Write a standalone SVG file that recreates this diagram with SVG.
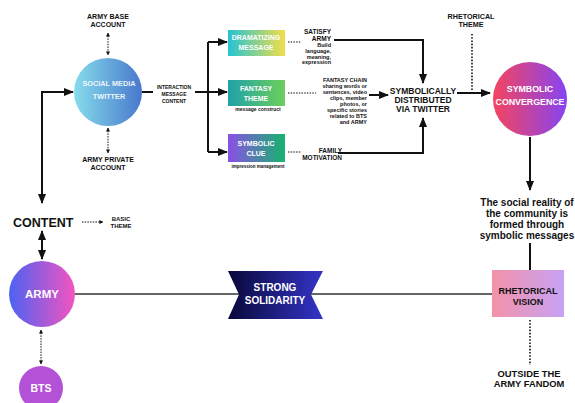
<svg xmlns="http://www.w3.org/2000/svg" width="575" height="403" viewBox="0 0 575 403">
<style>
text{font-family:"Liberation Sans",Arial,sans-serif;font-weight:bold;fill:#111}
.w{fill:#fff}
.c{text-anchor:middle}
.r{text-anchor:end}
.ln{stroke:#111;stroke-width:2;fill:none}
.th{stroke:#333;stroke-width:1.6;fill:none}
.dt{stroke:#111;stroke-width:1;stroke-dasharray:1.5 1.2;fill:none}
.dt2{stroke:#111;stroke-width:1.6;stroke-dasharray:1.6 1.6;fill:none}
</style>
<defs>
<marker id="a" viewBox="0 0 10 10" refX="9" refY="5" markerWidth="4" markerHeight="4" orient="auto-start-reverse"><path d="M0,0L10,5L0,10z" fill="#111"/></marker>
<marker id="s" viewBox="0 0 10 10" refX="9" refY="5" markerWidth="5" markerHeight="5" orient="auto-start-reverse"><path d="M0,1L10,5L0,9z" fill="#111"/></marker>
<linearGradient id="gSM"><stop offset="0" stop-color="#86dcec"/><stop offset="1" stop-color="#4878cc"/></linearGradient>
<linearGradient id="gDM"><stop offset="0" stop-color="#25c3d3"/><stop offset="1" stop-color="#f2de4a"/></linearGradient>
<linearGradient id="gFT"><stop offset="0" stop-color="#1fa1a9"/><stop offset="1" stop-color="#6cd05a"/></linearGradient>
<linearGradient id="gSC"><stop offset="0" stop-color="#8b4fe6"/><stop offset="1" stop-color="#16b46e"/></linearGradient>
<linearGradient id="gCV"><stop offset="0" stop-color="#f5445e"/><stop offset="1" stop-color="#8744f2"/></linearGradient>
<linearGradient id="gAR"><stop offset="0" stop-color="#4c62f2"/><stop offset="1" stop-color="#f454c0"/></linearGradient>
<linearGradient id="gRV"><stop offset="0" stop-color="#f492a8"/><stop offset="1" stop-color="#c6a2f4"/></linearGradient>
<linearGradient id="gSS"><stop offset="0" stop-color="#08083a"/><stop offset="1" stop-color="#3434c8"/></linearGradient>
</defs>

<g id="connectors">
<path class="dt" d="M108,33V55" marker-start="url(#a)" marker-end="url(#a)"/>
<path class="dt" d="M108,128V153" marker-start="url(#a)" marker-end="url(#a)"/>
<path class="ln" d="M142,92H153"/>
<path class="ln" d="M195,92H227" marker-end="url(#s)"/>
<path class="ln" d="M208,42V152"/>
<path class="ln" d="M208,42H227" marker-end="url(#s)"/>
<path class="ln" d="M208,152H227" marker-end="url(#s)"/>
<path class="dt" d="M288,42H301"/>
<path class="dt" d="M288,93H316"/>
<path class="dt" d="M288,152H301"/>
<path class="ln" d="M334,40H423V83" marker-end="url(#s)"/>
<path class="ln" d="M369,95H388" marker-end="url(#s)"/>
<path class="ln" d="M338,153H423V118" marker-end="url(#s)"/>
<path class="ln" d="M457,93H490" marker-end="url(#s)"/>
<path class="dt2" d="M472,34V90"/>
<path class="ln" d="M530,137V190" marker-end="url(#s)"/>
<path class="ln" d="M530,243V270"/>
<path class="dt2" d="M530,320V365"/>
<path class="ln" d="M42,203V92H73" marker-start="url(#s)" marker-end="url(#s)"/>
<path class="dt" d="M82,222H103" marker-end="url(#a)"/>
<path class="ln" d="M42,231V259" marker-start="url(#s)" marker-end="url(#s)"/>
<path class="dt" d="M41,330V364" marker-start="url(#a)" marker-end="url(#a)"/>
<path class="th" d="M75,294H492"/>
</g>

<g id="army-base"><text class="c" x="108" y="19" font-size="7">ARMY BASE</text><text class="c" x="108" y="27" font-size="7">ACCOUNT</text></g>
<g id="army-private"><text class="c" x="108" y="162" font-size="7">ARMY PRIVATE</text><text class="c" x="108" y="170" font-size="7">ACCOUNT</text></g>
<g id="social-media"><circle cx="108" cy="92" r="34" fill="url(#gSM)"/><text class="c w" x="109" y="86" font-size="7.3" fill-opacity="0.9">SOCIAL MEDIA</text><text class="c w" x="109" y="99" font-size="7.3" fill-opacity="0.9">TWITTER</text></g>
<g id="interaction"><text class="c" x="174" y="89" font-size="5">INTERACTION</text><text class="c" x="174" y="96" font-size="5">MESSAGE</text><text class="c" x="174" y="103" font-size="5">CONTENT</text></g>

<g id="dramatizing"><rect x="228" y="30" width="57" height="26" fill="url(#gDM)"/><text class="c w" x="256" y="40" font-size="7">DRAMATIZING</text><text class="c w" x="256" y="50" font-size="7">MESSAGE</text></g>
<g id="fantasy"><rect x="228" y="80" width="57" height="26" fill="url(#gFT)"/><text class="c w" x="256" y="91" font-size="7">FANTASY</text><text class="c w" x="256" y="101" font-size="7">THEME</text><text class="c" x="258" y="111" font-size="5">message construct</text></g>
<g id="symbolic-clue"><rect x="228" y="134" width="57" height="28" fill="url(#gSC)"/><text class="c w" x="256" y="146" font-size="7">SYMBOLIC</text><text class="c w" x="256" y="156" font-size="7">CLUE</text><text class="c" x="258" y="168" font-size="4.5">impression management</text></g>

<g id="satisfy"><text class="r" x="331" y="34" font-size="6.5">SATISFY</text><text class="r" x="331" y="41" font-size="6.5">ARMY</text><text class="r" x="331" y="47" font-size="5.5">Build</text><text class="r" x="331" y="53" font-size="5.5">language,</text><text class="r" x="331" y="59" font-size="5.5">meaning,</text><text class="r" x="331" y="64" font-size="5.5">expression</text></g>
<g id="fantasy-chain"><text class="r" x="367" y="82" font-size="5.5">FANTASY CHAIN</text><text class="r" x="367" y="88" font-size="5.5">sharing words or</text><text class="r" x="367" y="94" font-size="5.5">sentences, video</text><text class="r" x="367" y="100" font-size="5.5">clips, member</text><text class="r" x="367" y="106" font-size="5.5">photos, or</text><text class="r" x="367" y="112" font-size="5.5">specific stories</text><text class="r" x="367" y="118" font-size="5.5">related to BTS</text><text class="r" x="367" y="124" font-size="5.5">and ARMY</text></g>
<g id="family"><text class="r" x="342" y="153" font-size="6.5">FAMILY</text><text class="r" x="342" y="160" font-size="6.5">MOTIVATION</text></g>

<g id="distributed"><text class="c" x="423" y="94" font-size="8.5">SYMBOLICALLY</text><text class="c" x="423" y="103" font-size="8.5">DISTRIBUTED</text><text class="c" x="423" y="112" font-size="8.5">VIA TWITTER</text></g>
<g id="rhetorical-theme"><text class="c" x="471" y="19" font-size="7.2">RHETORICAL</text><text class="c" x="471" y="27" font-size="7.2">THEME</text></g>
<g id="convergence"><circle cx="530" cy="99" r="37" fill="url(#gCV)"/><text class="c w" x="530" y="92" font-size="8.8">SYMBOLIC</text><text class="c w" x="530" y="105" font-size="8.8">CONVERGENCE</text></g>

<g id="social-reality"><text class="c" x="527" y="206" font-size="10">The social reality of</text><text class="c" x="527" y="217" font-size="10">the community is</text><text class="c" x="527" y="228" font-size="10">formed through</text><text class="c" x="527" y="239" font-size="10">symbolic messages</text></g>
<g id="rhetorical-vision"><rect x="492" y="270" width="72" height="47" fill="url(#gRV)"/><text class="c" x="528" y="294" font-size="9" fill="#2a1a2a">RHETORICAL</text><text class="c" x="528" y="305" font-size="9" fill="#2a1a2a">VISION</text></g>
<g id="outside"><text class="c" x="529" y="377" font-size="9.4">OUTSIDE THE</text><text class="c" x="529" y="387" font-size="9.4">ARMY FANDOM</text></g>

<g id="solidarity"><path d="M228,271H323L311,294.5L323,319H228L239,294.5Z" fill="url(#gSS)"/><text class="c w" x="275" y="291" font-size="10">STRONG</text><text class="c w" x="275" y="304" font-size="10">SOLIDARITY</text></g>

<g id="content"><text x="13" y="227" font-size="12.5">CONTENT</text></g>
<g id="basic-theme"><text class="c" x="121" y="221" font-size="6">BASIC</text><text class="c" x="121" y="228" font-size="6">THEME</text></g>
<g id="army"><circle cx="42" cy="294" r="33" fill="url(#gAR)"/><text class="c w" x="42" y="298" font-size="11.5">ARMY</text></g>
<g id="bts"><circle cx="41" cy="388" r="22" fill="#b352d6"/><text class="c w" x="41" y="392" font-size="10.5">BTS</text></g>
</svg>
